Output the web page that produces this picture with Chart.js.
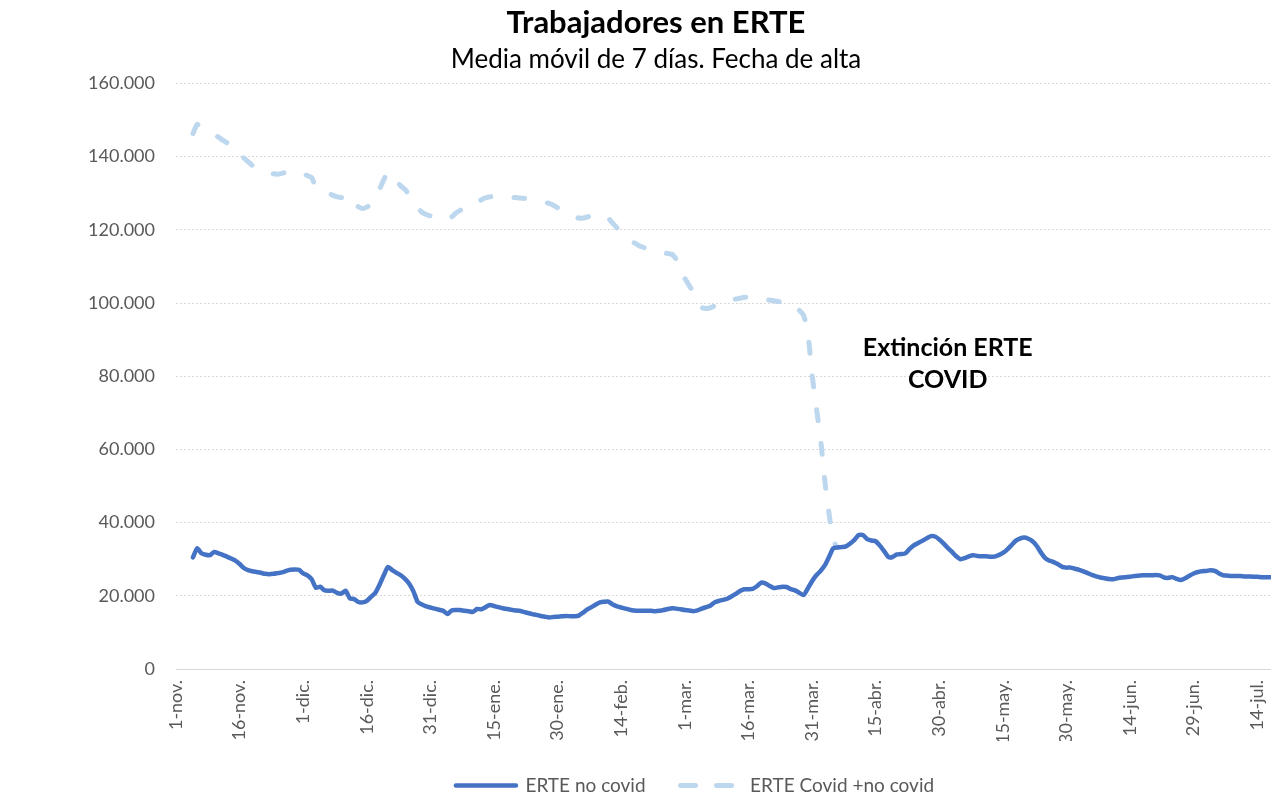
<!DOCTYPE html>
<html>
<head>
<meta charset="utf-8">
<script src="https://cdn.jsdelivr.net/npm/chart.js@4.4.1/dist/chart.umd.min.js"></script>
<style>
  body { margin: 0; background: #fff; }
  #wrap { width: 1271px; height: 798px; }
</style>
</head>
<body>
<div id="wrap"><canvas id="erteChart" width="1271" height="798"></canvas></div>
<script>
// Trabajadores en ERTE - media móvil 7 días

const monthNames = ['nov.', 'dic.', 'ene.', 'feb.', 'mar.', 'abr.', 'may.', 'jun.', 'jul.'];
const monthDays = [30, 31, 31, 28, 31, 30, 31, 30, 17];
const tickEvery = 15;

// daily values, 1-nov to 17-jul (first 4 days without data)
const noCovid = [null, null, null, null,
  30500, 33000, 31600, 31200, 31100, 32000, 31600, 31200, 30700, 30200,
  29600, 28700, 27600, 27000, 26700, 26500, 26300, 26000, 25900, 26000,
  26200, 26400, 26800, 27100, 27200, 27100, 26100, 25600, 24500, 22200,
  22500, 21500, 21400, 21400, 20800, 20600, 21400, 19300, 19100, 18300,
  18200, 18600, 19700, 20800, 23000, 25600, 27900, 27000, 26300, 25600,
  24600, 23300, 21200, 18300, 17600, 17100, 16800, 16500, 16200, 15900,
  15000, 16000, 16100, 16100, 15900, 15800, 15600, 16400, 16300, 16900,
  17500, 17200, 16900, 16600, 16400, 16200, 16000, 15900, 15600, 15300,
  15000, 14800, 14500, 14300, 14100, 14200, 14300, 14400, 14500, 14400,
  14400, 14600, 15400, 16300, 16900, 17600, 18200, 18400, 18400, 17600,
  17100, 16800, 16500, 16200, 16000, 15900, 15900, 15900, 15900, 15800,
  15900, 16100, 16400, 16600, 16500, 16300, 16100, 16000, 15800, 16000,
  16500, 16900, 17300, 18200, 18600, 18900, 19200, 19800, 20500, 21300,
  21800, 21800, 21900, 22600, 23600, 23400, 22700, 22100, 22300, 22500,
  22400, 21800, 21500, 20800, 20200, 22000, 24000, 25600, 26800, 28300,
  30600, 33000, 33200, 33300, 33500, 34300, 35300, 36600, 36600, 35500,
  35100, 34900, 33700, 32200, 30600, 30600, 31300, 31400, 31600, 32800,
  33800, 34400, 35000, 35700, 36300, 36200, 35400, 34300, 33100, 32000,
  30800, 30000, 30300, 30800, 31100, 30900, 30800, 30800, 30700, 30700,
  31100, 31700, 32600, 33800, 35000, 35600, 35900, 35600, 34900, 33600,
  31800, 30300, 29600, 29200, 28600, 27900, 27700, 27700, 27400, 27100,
  26700, 26200, 25700, 25300, 25000, 24800, 24600, 24500, 24800, 25000,
  25100, 25200, 25400, 25500, 25600, 25600, 25600, 25700, 25600, 25000,
  24900, 25100, 24600, 24300, 24800, 25500, 26100, 26500, 26700, 26800,
  27000, 26800, 26100, 25600, 25500, 25400, 25400, 25400, 25300, 25300,
  25200, 25200, 25100, 25100, 25100];

const covidTotal = [null, null, null, null,
  146300, 148800, 147800, 147000, 146500, 146000, 145300, 144500, 143800, 142800,
  141600, 140300, 139600, 138600, 137600, 137000, 136500, 136000, 135600, 135300,
  135200, 135400, 135800, 136000, 136000, 135500, 135300, 134800, 134300, 131500,
  130800, 130500, 130000, 129400, 129000, 128800, 129700, 128000, 127000, 126300,
  125800, 126200, 127000, 128200, 131000, 133700, 135800, 134300, 133300, 132000,
  131000, 129600, 127800, 126000, 124800, 124200, 123800, 123800, 123800, 123800,
  123200, 123500, 124600, 125300, 125800, 126000, 126200, 127300, 128200, 128700,
  129000, 129200, 129200, 129100, 129000, 128900, 128800, 128700, 128600, 128500,
  128300, 128100, 127800, 127500, 127200, 126700, 126000, 125300, 124700, 124200,
  123600, 123200, 123200, 123500, 123900, 124000, 124200, 123900, 123100, 121800,
  120500, 119300, 118000, 117200, 116500, 115800, 115300, 114900, 114500, 114100,
  113800, 113700, 113500, 113300, 111900, 109000, 106700, 104800, 103000, 100800,
  98800, 98500, 98700, 99200, 99800, 100200, 100500, 100800, 101100, 101300,
  101600, 101500, 101200, 100900, 100800, 100800, 100800, 100600, 100400, 100300,
  100100, 100000, 99300, 98000, 96700, 92000, 80500, 71500, 63000, 51500,
  42500, 35000, 33200];

const noteLines = ['Extinción ERTE', 'COVID'];
const noteIndex = 182;
const noteValues = [87600, 78900];

const legendDash = [[], [15, 21]];

const labels = [];
monthNames.forEach((m, i) => {
    for (let d = 1; d <= monthDays[i]; d++) labels.push(d + '-' + m);
});

function fmtThousands(v) {
    return String(v).replace(/\B(?=(\d{3})+(?!\d))/g, '.');
}

const FONT = 'Lato, "Liberation Sans", sans-serif';

const notePlugin = {
    id: 'noteText',
    afterLayout(chart) {
        // legend sits a bit right of centre in the original
        chart.legend.left += 39;
        chart.legend.right += 39;
    },
    afterDatasetsDraw(chart) {
        const { ctx, scales } = chart;
        const cx = scales.x.getPixelForValue(noteIndex);
        ctx.save();
        ctx.font = 'bold 25px ' + FONT;
        ctx.fillStyle = '#000';
        ctx.textAlign = 'center';
        ctx.textBaseline = 'middle';
        noteLines.forEach((t, i) => {
            ctx.fillText(t, cx, scales.y.getPixelForValue(noteValues[i]));
        });
        ctx.restore();
    }
};

new Chart(document.getElementById('erteChart').getContext('2d'), {
    type: 'line',
    data: {
        labels: labels,
        datasets: [{
            label: 'ERTE no covid',
            data: noCovid,
            borderColor: '#4472C4',
            backgroundColor: '#4472C4',
            borderWidth: 4.5,
            pointRadius: 0,
            pointStyle: 'line',
            tension: 0.2,
            borderCapStyle: 'round',
            borderJoinStyle: 'round'
        }, {
            label: 'ERTE Covid +no covid',
            data: covidTotal,
            borderColor: '#BDD7EE',
            backgroundColor: '#BDD7EE',
            borderWidth: 5,
            borderDash: [11, 23],
            borderCapStyle: 'round',
            pointRadius: 0,
            pointStyle: 'line',
            tension: 0.2
        }]
    },
    options: {
        responsive: false,
        animation: false,
        layout: { padding: { left: 42, right: 1, top: 2, bottom: -7 } },
        plugins: {
            title: {
                display: true,
                text: 'Trabajadores en ERTE',
                color: '#000',
                font: { family: FONT, size: 31, weight: 'bold' },
                padding: { top: 2, bottom: 3 }
            },
            subtitle: {
                display: true,
                text: 'Media móvil de 7 días. Fecha de alta',
                color: '#000',
                font: { family: FONT, size: 26 },
                padding: { top: 0, bottom: 8 }
            },
            legend: {
                position: 'bottom',
                labels: {
                    usePointStyle: true,
                    pointStyleWidth: 60,
                    color: '#595959',
                    font: { family: FONT, size: 19 },
                    padding: 35,
                    generateLabels(chart) {
                        const items = Chart.defaults.plugins.legend.labels.generateLabels(chart);
                        items.forEach(it => {
                            it.lineDash = legendDash[it.datasetIndex];
                            it.lineCap = 'round';
                        });
                        return items;
                    }
                }
            },
            tooltip: { enabled: false }
        },
        scales: {
            x: {
                grid: { display: false },
                border: { display: true, color: '#D9D9D9', width: 1 },
                afterFit(scale) {
                    scale.height = 72;
                    scale.paddingLeft = 0;
                    scale.paddingRight = 0;
                },
                ticks: {
                    autoSkip: false,
                    minRotation: 90,
                    maxRotation: 90,
                    padding: 3,
                    color: '#595959',
                    font: { family: FONT, size: 18 },
                    callback: function (val, idx) {
                        return idx % tickEvery === 0 ? this.getLabelForValue(val) : '';
                    }
                }
            },
            y: {
                min: 0,
                max: 160000,
                afterFit(scale) {
                    scale.width = 134;
                },
                grid: { color: '#D9D9D9', drawTicks: false, lineWidth: 1 },
                border: { display: false, dash: [2, 2] },
                ticks: {
                    stepSize: 20000,
                    padding: 21,
                    color: '#595959',
                    font: { family: FONT, size: 18 },
                    callback: v => fmtThousands(v)
                }
            }
        }
    },
    plugins: [notePlugin]
});
</script>
</body>
</html>
